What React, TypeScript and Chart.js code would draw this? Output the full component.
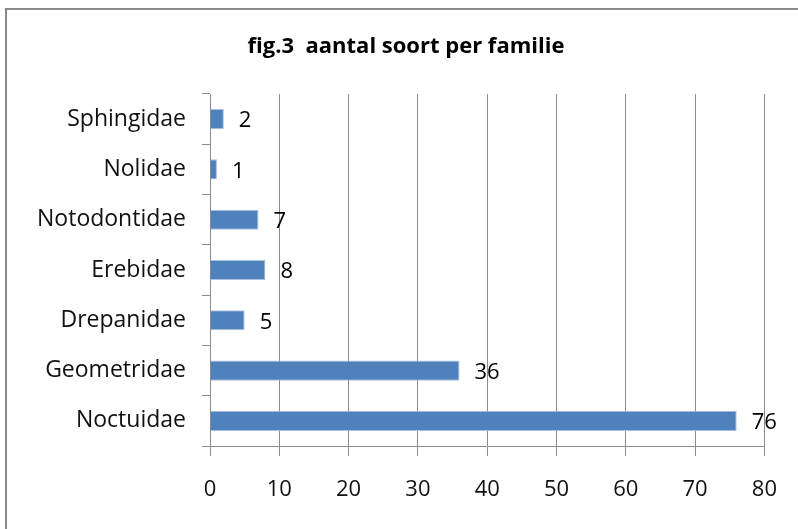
import React, { useEffect, useRef } from "react";
import { Chart, registerables } from "chart.js";

Chart.register(...registerables);

const categories = ["Sphingidae", "Nolidae", "Notodontidae", "Erebidae", "Drepanidae", "Geometridae", "Noctuidae"];
const counts = [2, 1, 7, 8, 5, 36, 76];
const titleText = "fig.3  aantal soort per familie";
const xMin = 0;
const xMax = 80;
const xStep = 10;

const FONT = "'Open Sans', 'Noto Sans', sans-serif";

export default function App() {
  const ref = useRef<HTMLCanvasElement | null>(null);

  useEffect(() => {
    const canvas = ref.current;
    if (!canvas) return;

    const framePlugin = {
      id: "frame",
      beforeDraw(chart: any) {
        const ctx = chart.ctx;
        ctx.save();
        ctx.fillStyle = "#ffffff";
        ctx.fillRect(0, 0, chart.width, chart.height);
        ctx.strokeStyle = "#8a8a8a";
        ctx.lineWidth = 2;
        ctx.strokeRect(6, 9, chart.width + 50, chart.height + 50);
        ctx.fillStyle = "#000000";
        ctx.font = `bold 22px ${FONT}`;
        ctx.textAlign = "center";
        ctx.textBaseline = "middle";
        ctx.fillText(titleText, 406, 47);
        ctx.restore();
      },
    };

    const labelPlugin = {
      id: "valueLabels",
      afterDatasetsDraw(chart: any) {
        const ctx = chart.ctx;
        const meta = chart.getDatasetMeta(0);
        const data = chart.data.datasets[0].data;
        ctx.save();
        ctx.fillStyle = "#000000";
        ctx.font = `22px ${FONT}`;
        ctx.textAlign = "left";
        ctx.textBaseline = "middle";
        meta.data.forEach((bar: any, i: number) => {
          ctx.fillText(String(data[i]), bar.x + 15, bar.y + 2);
        });
        ctx.restore();
      },
    };

    const chart = new Chart(canvas, {
      type: "bar",
      data: {
        labels: categories,
        datasets: [
          {
            data: counts,
            backgroundColor: "#4f81bd",
            borderColor: "#a9c1e0",
            borderWidth: 1,
            barPercentage: 0.4,
            categoryPercentage: 1,
          },
        ],
      },
      options: {
        indexAxis: "y",
        responsive: false,
        animation: false,
        layout: { padding: { top: 94, right: 33, left: 0, bottom: 0 } },
        plugins: {
          legend: { display: false },
          title: { display: false },
          tooltip: { enabled: false },
        },
        scales: {
          x: {
            min: xMin,
            max: xMax,
            ticks: {
              stepSize: xStep,
              color: "#111111",
              font: { family: FONT, size: 22 },
              padding: 21,
              maxRotation: 0,
            },
            grid: { color: "#8c8c8c", tickLength: 10, lineWidth: 1 },
            border: { color: "#8c8c8c" },
            afterFit(scale: any) {
              scale.height = 83;
            },
          },
          y: {
            ticks: {
              color: "#111111",
              font: { family: FONT, size: 23 },
              padding: 16,
            },
            grid: { color: "#8c8c8c", drawOnChartArea: false, tickLength: 8, offset: true },
            border: { color: "#8c8c8c" },
            afterFit(scale: any) {
              scale.width = 210;
            },
          },
        },
      },
      plugins: [framePlugin, labelPlugin],
    });

    return () => chart.destroy();
  }, []);

  return (
    <div style={{ position: "absolute", left: 0, top: 0, width: 798, height: 529 }}>
      <canvas ref={ref} width={798} height={529} style={{ width: 798, height: 529 }} />
    </div>
  );
}
